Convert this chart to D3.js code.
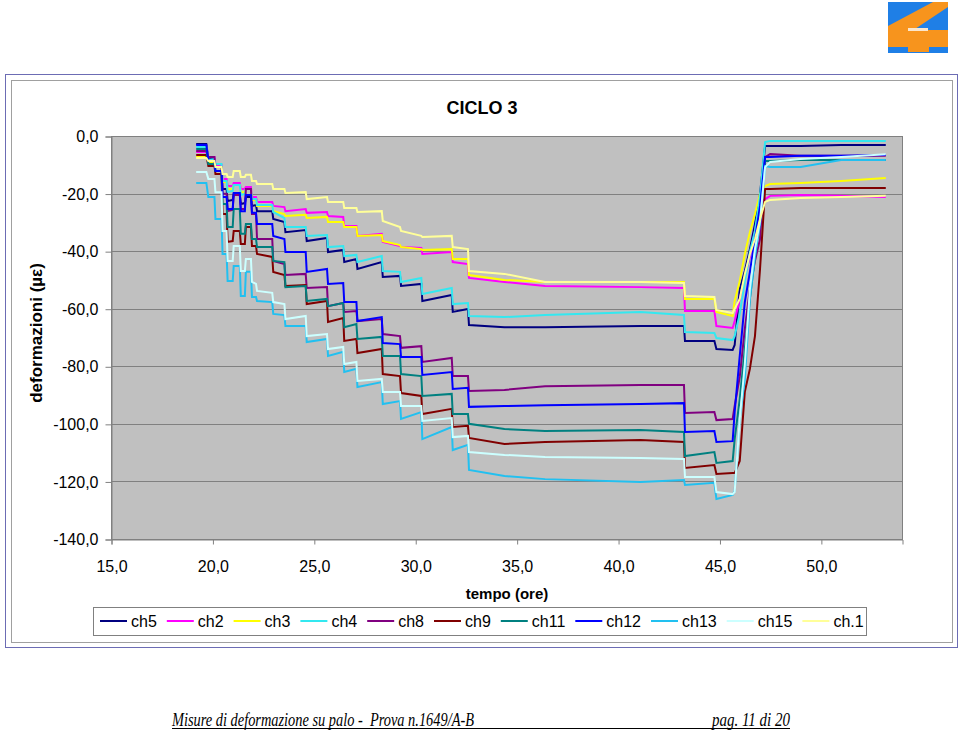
<!DOCTYPE html>
<html>
<head>
<meta charset="utf-8">
<script src="https://cdn.jsdelivr.net/npm/d3@7"></script>
<style>
body { margin: 0; background: #fff; }
svg { display: block; font-family: "Liberation Sans", Arial, sans-serif; }
</style>
</head>
<body>
<div id="chart"></div>
<script>
const WIDTH = 960, HEIGHT = 731;

// tempo (ore)
const TIME = [19.2, 19.7, 19.8, 20.1, 20.15, 20.45, 20.5, 20.7, 20.75, 21.0, 21.05, 21.35, 21.4, 21.6, 21.65, 21.9, 21.95, 22.15, 22.2, 22.95,
    23.0, 23.55, 23.6, 24.6, 24.65, 25.65, 25.7, 26.45, 26.5, 27.1, 27.15, 28.35, 28.4, 29.25, 29.3, 30.3, 30.35, 31.8, 31.85, 32.6,
    32.65, 34.4, 36.4, 41.1, 43.25, 43.3, 44.75, 44.85, 45.65, 45.75, 46.0, 46.25, 46.5, 46.75, 47.0, 47.25, 47.5, 49.0, 51.0, 53.2];

// deformazioni (µε), one value per TIME entry
const CH5 = [-2.8, -2.8, -8.0, -8.0, -10.8, -10.8, -18.4, -18.4, -22.6, -22.2, -20.1, -20.1, -23.6, -23.3, -21.2, -21.2, -24.3, -24.0, -26.1, -26.1,
    -28.8, -29.9, -33.4, -32.7, -36.5, -35.4, -40.3, -39.6, -43.8, -42.7, -46.2, -43.8, -49.0, -48.6, -52.1, -51.4, -57.3, -55.2, -61.1, -60.1,
    -65.7, -66.4, -66.4, -66.0, -66.0, -71.2, -71.2, -74.0, -74.3, -72.6, -53.2, -46.9, -39.3, -30.6, -20.1, -3.5, -3.5, -3.5, -3.1, -3.1];
const CH2 = [-5.6, -5.6, -7.3, -7.3, -10.1, -10.1, -14.9, -14.9, -17.4, -17.4, -16.3, -16.3, -18.4, -18.4, -17.7, -17.7, -21.2, -21.2, -22.9, -22.9,
    -24.3, -24.7, -26.1, -25.4, -26.7, -26.4, -27.8, -28.1, -31.3, -31.3, -34.7, -34.0, -36.8, -38.2, -38.6, -38.9, -41.0, -40.3, -43.8, -44.5,
    -49.3, -50.7, -52.1, -52.5, -52.8, -60.8, -60.8, -66.0, -66.7, -64.3, -56.6, -49.0, -42.0, -33.0, -23.6, -21.9, -20.8, -20.5, -20.8, -21.2];
const CH3 = [-7.3, -7.3, -9.0, -9.0, -10.8, -10.8, -16.0, -16.0, -18.4, -18.4, -17.0, -17.0, -19.5, -19.5, -18.4, -18.4, -22.2, -22.2, -24.3, -24.3,
    -26.1, -27.1, -27.8, -27.4, -28.5, -28.1, -29.9, -29.9, -31.6, -31.6, -34.7, -34.4, -36.5, -37.9, -38.6, -39.3, -39.6, -39.3, -42.7, -42.7,
    -48.3, -50.0, -50.7, -50.7, -50.7, -56.6, -56.6, -61.1, -62.5, -57.3, -50.4, -41.0, -33.4, -27.1, -20.1, -17.4, -16.7, -16.3, -15.6, -14.6];
const CH4 = [-3.8, -3.8, -8.3, -8.0, -9.7, -9.7, -15.6, -15.6, -19.5, -19.1, -17.0, -17.0, -20.5, -20.1, -18.4, -18.4, -21.9, -21.9, -24.0, -24.0,
    -26.4, -28.5, -31.6, -31.6, -34.7, -34.4, -38.6, -38.2, -41.7, -41.3, -43.8, -41.7, -46.9, -47.2, -50.7, -49.3, -54.9, -52.8, -58.4, -58.0,
    -62.5, -62.9, -62.2, -61.1, -62.2, -68.1, -68.4, -70.2, -70.9, -69.5, -61.8, -50.4, -40.3, -33.0, -20.8, -2.1, -1.7, -1.7, -1.7, -1.7];
const CH8 = [-5.2, -5.2, -7.3, -7.3, -10.8, -10.8, -20.1, -20.1, -26.1, -25.7, -20.5, -20.5, -25.4, -25.4, -18.4, -18.4, -27.1, -27.1, -35.8, -35.8,
    -43.4, -44.5, -48.3, -47.9, -52.8, -52.5, -59.1, -58.0, -61.1, -60.8, -64.3, -63.6, -68.8, -69.5, -73.6, -73.0, -78.5, -77.1, -83.4, -83.4,
    -88.6, -88.2, -86.9, -86.5, -86.5, -96.2, -95.9, -98.7, -98.3, -93.8, -83.7, -67.0, -53.2, -43.4, -35.8, -7.3, -6.3, -6.9, -6.9, -6.9];
const CH9 = [-6.6, -6.6, -10.4, -10.4, -13.2, -13.2, -27.1, -27.1, -36.8, -36.5, -33.0, -33.0, -37.5, -37.5, -31.6, -31.6, -38.2, -38.2, -41.0, -42.0,
    -47.2, -48.3, -52.1, -51.8, -58.4, -57.3, -64.6, -63.2, -71.2, -70.5, -75.4, -74.0, -82.7, -83.4, -89.3, -90.3, -96.6, -94.8, -101.1, -100.7,
    -104.9, -107.0, -106.3, -105.6, -106.3, -115.3, -114.3, -117.4, -117.1, -117.1, -112.9, -88.9, -80.9, -69.5, -46.2, -18.4, -18.4, -18.1, -18.1, -18.1];
const CH11 = [-4.5, -4.5, -9.7, -9.7, -12.2, -12.2, -23.6, -23.6, -31.6, -31.6, -25.4, -25.4, -34.0, -34.0, -30.6, -30.6, -35.8, -35.8, -38.6, -38.6,
    -43.4, -43.8, -52.5, -52.1, -57.3, -56.6, -59.1, -58.0, -66.4, -65.3, -70.5, -69.8, -76.4, -76.4, -82.7, -83.4, -90.3, -89.6, -96.6, -96.6,
    -100.0, -101.8, -102.5, -102.1, -102.8, -111.2, -109.8, -113.6, -112.9, -105.3, -91.4, -74.0, -56.6, -42.0, -27.1, -8.7, -8.7, -8.3, -8.3, -8.3];
const CH12 = [-3.1, -3.1, -8.7, -8.7, -12.2, -12.2, -21.2, -21.2, -25.4, -25.4, -19.8, -19.8, -26.1, -26.1, -20.5, -20.5, -26.7, -26.7, -30.6, -30.6,
    -34.7, -35.8, -40.3, -40.3, -47.2, -46.2, -51.4, -51.1, -57.7, -57.7, -64.3, -62.9, -71.9, -72.3, -76.8, -76.8, -83.0, -82.0, -87.9, -87.5,
    -94.1, -93.8, -93.5, -93.1, -92.8, -102.8, -102.5, -106.3, -106.0, -95.9, -76.4, -57.7, -47.2, -35.8, -24.3, -7.3, -7.3, -6.9, -6.9, -6.6];
const CH13 = [-16.3, -16.3, -21.2, -21.2, -28.8, -28.8, -41.0, -41.0, -50.4, -50.4, -45.2, -45.2, -55.6, -55.6, -47.2, -47.2, -55.9, -55.9, -57.3, -57.7,
    -61.8, -62.2, -66.0, -66.0, -71.6, -70.5, -76.4, -75.0, -82.0, -80.9, -87.2, -85.5, -93.1, -92.1, -98.3, -95.9, -105.3, -101.1, -109.1, -107.3,
    -116.0, -118.1, -119.2, -120.2, -119.5, -121.2, -120.5, -126.1, -124.7, -123.3, -98.3, -84.4, -56.6, -41.7, -30.6, -10.4, -10.8, -10.8, -8.3, -8.3];
const CH15 = [-12.5, -12.5, -14.9, -14.9, -19.5, -19.5, -33.0, -33.0, -43.4, -43.4, -38.2, -38.2, -46.9, -46.9, -42.7, -42.7, -50.7, -51.4, -53.8, -54.5,
    -57.7, -58.4, -63.6, -62.5, -69.5, -68.8, -74.0, -73.3, -79.2, -78.5, -85.1, -84.4, -88.9, -88.9, -93.8, -93.8, -99.0, -98.0, -104.6, -104.2,
    -109.8, -110.8, -111.5, -111.9, -112.2, -118.5, -118.5, -123.7, -124.4, -123.7, -98.3, -79.2, -53.2, -39.3, -29.5, -10.8, -9.0, -8.0, -7.3, -6.3];
const CH1 = [-7.6, -7.6, -8.7, -8.7, -10.8, -10.8, -13.2, -13.2, -14.2, -14.2, -12.2, -12.2, -14.2, -14.2, -13.5, -13.5, -15.6, -15.6, -16.7, -16.7,
    -18.4, -18.4, -19.8, -19.5, -21.9, -21.2, -22.9, -22.9, -25.0, -25.0, -26.4, -26.1, -29.5, -31.6, -33.0, -34.7, -35.1, -34.7, -38.6, -39.3,
    -46.9, -47.9, -50.7, -50.7, -51.1, -55.6, -55.9, -60.4, -61.5, -60.1, -56.6, -47.9, -41.0, -35.8, -28.8, -22.9, -22.2, -21.5, -21.2, -20.8];

const SERIES_NAMES = ["ch5", "ch2", "ch3", "ch4", "ch8", "ch9", "ch11", "ch12", "ch13", "ch15", "ch.1"];
const SERIES_COLORS = ["#000080", "#ff00ff", "#ffff00", "#33e8f0", "#800080", "#800000", "#008080", "#0000ff", "#22c0f0", "#ccffff", "#ffff99"];
const SERIES_VALUES = [CH5, CH2, CH3, CH4, CH8, CH9, CH11, CH12, CH13, CH15, CH1];

const X_TICKS = [15, 20, 25, 30, 35, 40, 45, 50];
const Y_TICKS = [0, -20, -40, -60, -80, -100, -120, -140];

const series = SERIES_NAMES.map((name, i) => ({
    name: name,
    color: SERIES_COLORS[i],
    points: TIME.map((t, j) => [t, SERIES_VALUES[i][j]])
}));

const itFormat = d3.formatLocale({ decimal: ",", thousands: ".", grouping: [3], currency: ["", "€"], minus: "-" }).format(".1f");

const PLOT = { left: 111, right: 902, top: 136, bottom: 539 };
const x = d3.scaleLinear().domain([15, 54]).range([PLOT.left, PLOT.right]);
const y = d3.scaleLinear().domain([-140, 0]).range([PLOT.bottom, PLOT.top]);

const svg = d3.select("#chart")
    .append("svg")
    .attr("width", WIDTH)
    .attr("height", HEIGHT)

// logo in alto a destra
const logo = svg.append("g")
logo.append("rect").attr("x", 888).attr("y", 2).attr("width", 60).attr("height", 51).attr("fill", "#1f7fe6")
logo.append("polygon").attr("points", "933,2 948,2 948,7 897,41 888,41 888,26").attr("fill", "#f7941d")
logo.append("rect").attr("x", 888).attr("y", 30).attr("width", 60).attr("height", 17).attr("fill", "#f7941d")
logo.append("rect").attr("x", 908).attr("y", 28).attr("width", 20).attr("height", 3).attr("fill", "#fbe6cc")
logo.append("rect").attr("x", 908).attr("y", 47).attr("width", 21).attr("height", 5).attr("fill", "#f7941d")

// area del grafico
svg.append("rect").attr("x", 5.5).attr("y", 74.5).attr("width", 952).attr("height", 573)
    .attr("fill", "none").attr("stroke", "#6c6cb4")
svg.append("rect").attr("x", 11.5).attr("y", 80.5).attr("width", 941).attr("height", 562)
    .attr("fill", "#fff").attr("stroke", "#a0a0a0")

svg.append("rect")
    .attr("x", PLOT.left).attr("y", PLOT.top)
    .attr("width", PLOT.right - PLOT.left).attr("height", PLOT.bottom - PLOT.top)
    .attr("fill", "#c0c0c0")

// griglia
svg.append("g")
    .selectAll("line")
    .data(Y_TICKS.filter(v => v > -140 && v < 0))
    .enter().append("line")
    .attr("x1", PLOT.left).attr("x2", PLOT.right)
    .attr("y1", d => Math.round(y(d)) + 0.5).attr("y2", d => Math.round(y(d)) + 0.5)
    .attr("stroke", "#808080")

svg.append("rect")
    .attr("x", PLOT.left + 0.5).attr("y", PLOT.top + 0.5)
    .attr("width", PLOT.right - PLOT.left).attr("height", PLOT.bottom - PLOT.top)
    .attr("fill", "none").attr("stroke", "#808080")

// assi
const yAxis = svg.append("g")
    .attr("transform", `translate(${PLOT.left + 0.5},0.5)`)
    .call(d3.axisLeft(y).tickValues(Y_TICKS).tickFormat(itFormat).tickSize(6).tickPadding(7))
const xAxis = svg.append("g")
    .attr("transform", `translate(0.5,${PLOT.bottom + 0.5})`)
    .call(d3.axisBottom(x).tickValues(X_TICKS).tickFormat(itFormat).tickSize(5).tickPadding(16))
for (const ax of [yAxis, xAxis]) {
    ax.select(".domain").attr("stroke", "#808080")
    ax.selectAll(".tick line").attr("stroke", "#808080")
    ax.selectAll("text").attr("font-size", 16).attr("fill", "#000")
        .attr("font-family", "\"Liberation Sans\", Arial, sans-serif")
}

// serie
const line = d3.line().x(d => x(d[0])).y(d => y(d[1]))
svg.append("g")
    .selectAll("path")
    .data(series)
    .enter().append("path")
    .attr("d", d => line(d.points))
    .attr("fill", "none")
    .attr("stroke", d => d.color)
    .attr("stroke-width", 2)
    .attr("stroke-linejoin", "miter")

// titoli
svg.append("text").attr("x", 482).attr("y", 114)
    .attr("text-anchor", "middle").attr("font-weight", "bold").attr("font-size", 18)
    .text("CICLO 3")
svg.append("text").attr("x", 507).attr("y", 599)
    .attr("text-anchor", "middle").attr("font-weight", "bold").attr("font-size", 15)
    .text("tempo (ore)")
svg.append("text").attr("transform", "translate(42,333) rotate(-90)")
    .attr("text-anchor", "middle").attr("font-weight", "bold").attr("font-size", 17)
    .text("deformazioni (µε)")

// legenda
const legend = svg.append("g")
legend.append("rect").attr("x", 93.5).attr("y", 607.5).attr("width", 773).attr("height", 28)
    .attr("fill", "#fff").attr("stroke", "#808080")
let lx = 100
series.forEach(s => {
    const g = legend.append("g").attr("transform", `translate(${lx},621)`)
    g.append("line").attr("x1", 0).attr("x2", 27).attr("stroke", s.color).attr("stroke-width", 2)
    const t = g.append("text").attr("x", 31).attr("y", 6).attr("font-size", 16).text(s.name)
    lx += 31 + t.node().getComputedTextLength() + 10
})

// piè di pagina
const foot = svg.append("g").attr("font-family", "\"Liberation Serif\", \"Times New Roman\", serif")
    .attr("font-style", "italic").attr("font-size", 19)
foot.append("text").attr("x", 172).attr("y", 726).style("white-space", "pre")
    .attr("textLength", 302).attr("lengthAdjust", "spacingAndGlyphs")
    .text("Misure di deformazione su palo -  Prova n.1649/A-B")
foot.append("text").attr("x", 712).attr("y", 726)
    .attr("textLength", 78).attr("lengthAdjust", "spacingAndGlyphs")
    .text("pag. 11 di 20")
foot.append("line").attr("x1", 172).attr("x2", 790).attr("y1", 728.5).attr("y2", 728.5).attr("stroke", "#000")
</script>
</body>
</html>
